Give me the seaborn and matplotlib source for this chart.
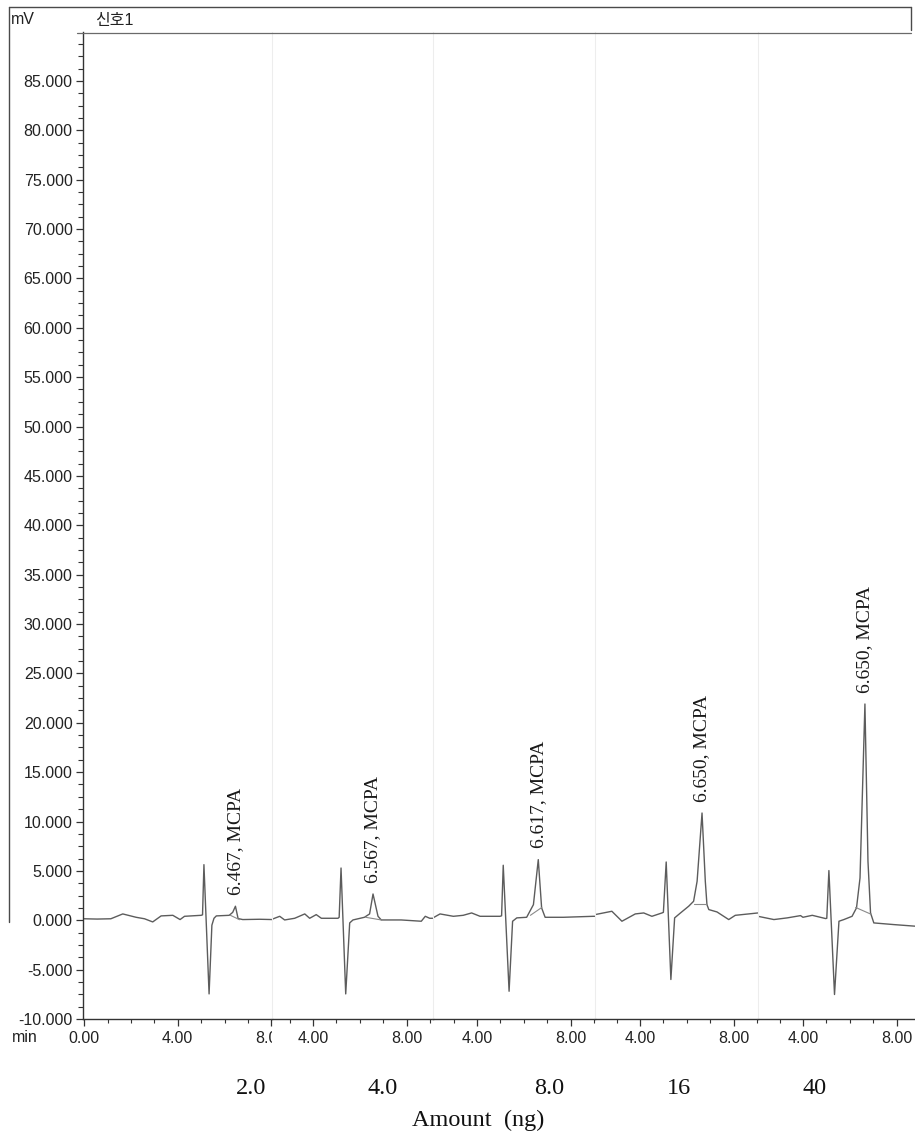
import matplotlib
matplotlib.use("Agg")
import matplotlib.pyplot as plt
from matplotlib.lines import Line2D
from matplotlib.ticker import MultipleLocator, FormatStrFormatter
from matplotlib.transforms import Bbox, TransformedBbox, blended_transform_factory
import seaborn as sns
import pandas as pd

# ---- chromatogram data (time in min, signal in mV) ----
amounts = ["2.0", "4.0", "8.0", "16", "40"]
retention = [6.467, 6.567, 6.617, 6.650, 6.650]
peak_heights = [1.42, 2.66, 6.14, 10.86, 21.9]

# trace points before the MCPA apex
pre_t_20 = [0.00, 0.55, 1.14, 1.65, 2.22, 2.58, 2.93, 3.29, 3.79, 4.10, 4.29, 5.00, 5.06, 5.12, 5.34, 5.46, 5.55, 5.65, 6.20, 6.35]
pre_mv_20 = [0.15, 0.12, 0.15, 0.64, 0.30, 0.15, -0.17, 0.44, 0.50, 0.07, 0.40, 0.50, 0.55, 5.63, -7.46, -0.50, 0.20, 0.44, 0.50, 0.80]
post_t_20 = [6.58, 6.78, 7.50, 8.05]
post_mv_20 = [0.17, 0.07, 0.10, 0.07]

pre_t_40 = [2.25, 2.58, 2.79, 3.22, 3.65, 3.86, 4.14, 4.36, 5.07, 5.12, 5.20, 5.40, 5.57, 5.71, 6.20, 6.42]
pre_mv_40 = [0.10, 0.40, 0.03, 0.20, 0.64, 0.20, 0.57, 0.20, 0.20, 0.30, 5.29, -7.46, -0.27, 0.03, 0.30, 0.64]
post_t_40 = [6.78, 6.92, 7.77, 8.63, 8.80, 8.99, 9.13]
post_mv_40 = [0.40, 0.03, 0.03, -0.10, 0.40, 0.20, 0.20]

pre_t_80 = [2.12, 2.42, 2.99, 3.41, 3.77, 4.13, 4.98, 5.05, 5.12, 5.37, 5.52, 5.70, 6.12, 6.41]
pre_mv_80 = [0.24, 0.64, 0.40, 0.50, 0.74, 0.40, 0.40, 0.45, 5.57, -7.19, -0.10, 0.24, 0.30, 1.58]
post_t_80 = [6.76, 6.91, 7.69, 8.97, 9.04]
post_mv_80 = [1.25, 0.30, 0.30, 0.40, 0.40]

pre_t_160 = [2.08, 2.80, 3.23, 3.80, 4.16, 4.51, 4.94, 5.00, 5.12, 5.32, 5.48, 5.73, 6.08, 6.29, 6.44]
pre_mv_160 = [0.57, 0.91, -0.10, 0.64, 0.74, 0.40, 0.74, 0.80, 5.90, -6.00, 0.24, 0.74, 1.42, 1.92, 3.95]
post_t_160 = [6.79, 6.86, 6.94, 7.29, 7.79, 8.07, 9.04]
post_mv_160 = [3.95, 1.58, 1.08, 0.84, 0.07, 0.50, 0.74]

pre_t_400 = [2.08, 2.76, 3.33, 3.90, 4.00, 4.40, 4.97, 5.02, 5.11, 5.35, 5.54, 5.75, 6.10, 6.29, 6.44]
pre_mv_400 = [0.40, 0.07, 0.24, 0.47, 0.30, 0.50, 0.17, 0.20, 5.03, -7.52, -0.10, 0.07, 0.40, 1.25, 4.28]
post_t_400 = [6.78, 6.89, 7.03, 7.89, 8.79]
post_mv_400 = [5.97, 0.74, -0.27, -0.44, -0.60]

# integration baselines under each MCPA peak: (t0, mV0, t1, mV1)
base_start_t = [6.25, 6.25, 6.28, 6.30, 6.25]
base_start_mv = [0.50, 0.30, 0.50, 1.65, 1.30]
base_end_t = [6.65, 6.92, 6.77, 6.88, 6.92]
base_end_mv = [0.05, 0.03, 1.30, 1.65, 0.60]

pre_t = [pre_t_20, pre_t_40, pre_t_80, pre_t_160, pre_t_400]
pre_mv = [pre_mv_20, pre_mv_40, pre_mv_80, pre_mv_160, pre_mv_400]
post_t = [post_t_20, post_t_40, post_t_80, post_t_160, post_t_400]
post_mv = [post_mv_20, post_mv_40, post_mv_80, post_mv_160, post_mv_400]

# ---- style ----
sns.set_style("white")
plt.rcParams["font.family"] = ["Liberation Sans", "Noto Sans CJK KR"]
plt.rcParams["axes.linewidth"] = 1.0

W, H = 915, 1135
fig = plt.figure(figsize=(W / 100, H / 100), dpi=100)
fig.patch.set_facecolor("white")

# panel edges in pixels and visible time window of each stitched run
edges = [83, 272, 433, 595, 758, 915]
xlims = [(-0.05, 8.03), (2.25, 9.13), (2.12, 9.04), (2.08, 9.04), (2.08, 8.79)]
y_bottom_px, y_top_px = 1019, 32.5

trace_color = "#5c5c5c"
axis_color = "#333333"
label_size = 11.5

axes = []
for i in range(5):
    left = edges[i] / W
    width = (edges[i + 1] - edges[i]) / W
    bottom = 1 - y_bottom_px / H
    height = (y_bottom_px - y_top_px) / H
    ax = fig.add_axes([left, bottom, width, height])
    ax.set_facecolor("none")
    axes.append(ax)

    t = pre_t[i] + [retention[i]] + post_t[i]
    mv = pre_mv[i] + [peak_heights[i]] + post_mv[i]
    df = pd.DataFrame({"time": t, "signal": mv})
    sns.lineplot(data=df, x="time", y="signal", ax=ax, color=trace_color,
                 linewidth=1.0, estimator=None, sort=False)
    ax.plot([base_start_t[i], base_end_t[i]], [base_start_mv[i], base_end_mv[i]],
            color="#8a8a8a", linewidth=0.8)

    ax.text(retention[i], peak_heights[i] + 1.15, f"{retention[i]:.3f}, MCPA",
            rotation=90, ha="center", va="bottom", family="Liberation Serif",
            fontsize=14, color="#1a1a1a")

    ax.set_xlim(*xlims[i])
    ax.set_ylim(-10, 89.9)
    ax.set_xlabel("")
    ax.set_ylabel("")

    ax.xaxis.set_major_locator(MultipleLocator(4))
    ax.xaxis.set_minor_locator(MultipleLocator(1))
    ax.xaxis.set_major_formatter(FormatStrFormatter("%.2f"))
    ax.tick_params(axis="x", which="major", bottom=True, direction="out", length=5,
                   width=0.9, color=axis_color, labelsize=label_size,
                   labelcolor="#222222", pad=3.5)
    ax.tick_params(axis="x", which="minor", bottom=True, direction="out", length=3,
                   width=0.8, color=axis_color)

    for side in ("top", "right"):
        ax.spines[side].set_visible(False)
    ax.spines["bottom"].set_color(axis_color)

    if i == 0:
        ax.spines["left"].set_color(axis_color)
        ax.yaxis.set_major_locator(MultipleLocator(5))
        ax.yaxis.set_minor_locator(MultipleLocator(1.25))
        ax.yaxis.set_major_formatter(FormatStrFormatter("%.3f"))
        ax.tick_params(axis="y", which="major", left=True, direction="out", length=5,
                       width=0.9, color=axis_color, labelsize=label_size,
                       labelcolor="#222222", pad=2.5)
        ax.tick_params(axis="y", which="minor", left=True, direction="out", length=3.5,
                       width=0.8, color=axis_color)
    else:
        ax.spines["left"].set_color("#ededed")
        ax.spines["left"].set_linewidth(0.8)
        ax.tick_params(axis="y", which="both", left=False, labelleft=False)

# the first run's "8.00" label is cut at the edge of the next run
fig.canvas.draw()
ax0 = axes[0]
clip = TransformedBbox(Bbox([[xlims[0][0] - 1, -0.2], [xlims[0][1], 1.0]]),
                       blended_transform_factory(ax0.transData, ax0.transAxes))
for tick in ax0.xaxis.get_major_ticks():
    tick.label1.set_clip_on(True)
    tick.label1.set_clip_box(clip)

# ---- report header frame ----
def fig_line(x0, y0, x1, y1, **kw):
    fig.add_artist(Line2D([x0 / W, x1 / W], [1 - y0 / H, 1 - y1 / H],
                          transform=fig.transFigure, **kw))

frame_kw = dict(color="#4a4a4a", linewidth=1.0)
fig_line(9, 7, 911, 7, **frame_kw)
fig_line(911, 7, 911, 30, **frame_kw)
fig_line(9, 7, 9, 922, **frame_kw)
fig_line(77, 32.5, 911, 32.5, color="#6a6a6a", linewidth=0.9)

fig.text(11 / W, 1 - 20 / H, "mV", ha="left", va="center", fontsize=label_size, color="#222222")
fig.text(95 / W, 1 - 20 / H, "신호1", ha="left", va="center", fontsize=label_size, color="#222222",
         family=["Liberation Sans", "Noto Sans CJK KR"])
fig.text(12 / W, 1 - 1037 / H, "min", ha="left", va="center", fontsize=label_size, color="#222222")

# ---- injected amount under each run ----
amount_x = [251, 383, 549, 679, 815]
for lab, xp in zip(amounts, amount_x):
    fig.text(xp / W, 1 - 1089 / H, lab, ha="center", va="center",
             family="Liberation Serif", fontsize=17.5, color="#111111")
fig.text(478 / W, 1 - 1120 / H, "Amount  (ng)", ha="center", va="center",
         family="Liberation Serif", fontsize=17.5, color="#111111")

fig.savefig("out.png", dpi=100, facecolor="white")
